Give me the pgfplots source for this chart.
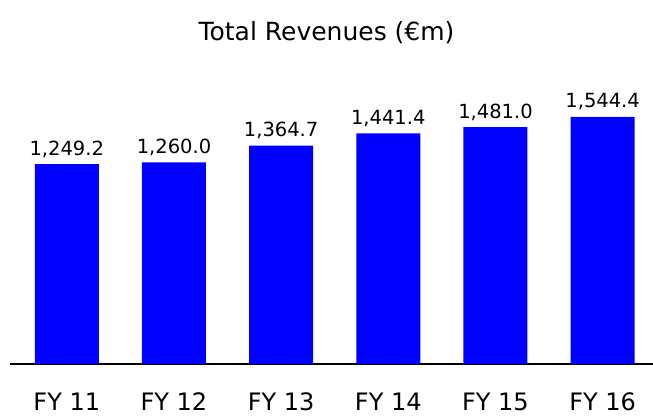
\documentclass[border=0pt]{standalone}
\usepackage{pgfplots}
\pgfplotsset{compat=1.18}
\usepackage{fontspec}
\setmainfont{DejaVu Sans}
\definecolor{barblue}{RGB}{0,0,255}
\begin{document}
\begin{tikzpicture}
\path[use as bounding box] (-10pt,-55pt) rectangle (643pt,364pt);
\begin{axis}[
  at={(0,0)}, anchor=south west,
  scale only axis,
  width=643pt, height=288pt,
  xmin=-0.53, xmax=5.47,
  ymin=0, ymax=1800,
  axis x line=bottom,
  axis y line=none,
  x axis line style={-, line width=1.6pt, black},
  xtick=data,
  xticklabels={FY 11, FY 12, FY 13, FY 14, FY 15, FY 16},
  major tick length=0pt,
  xticklabel style={font=\fontsize{24}{28}\selectfont, anchor=base, yshift=-47pt},
  ybar, bar width=64pt,
  clip=false,
  nodes near coords,
  nodes near coords style={font=\fontsize{19.5}{23}\selectfont, anchor=base, yshift=9pt,
     /pgf/number format/.cd, fixed, fixed zerofill, precision=1, 1000 sep={,}, assume math mode=true},
  title={Total Revenues (€m)},
  title style={font=\fontsize{25}{30}\selectfont, at={(0.5,1)}, anchor=base, yshift=29pt, xshift=-5pt},
]
\addplot[fill=barblue, draw=none] coordinates {
  (0,1249.2) (1,1260.0) (2,1364.7) (3,1441.4) (4,1481.0) (5,1544.4)
};
\end{axis}
\end{tikzpicture}
\end{document}
